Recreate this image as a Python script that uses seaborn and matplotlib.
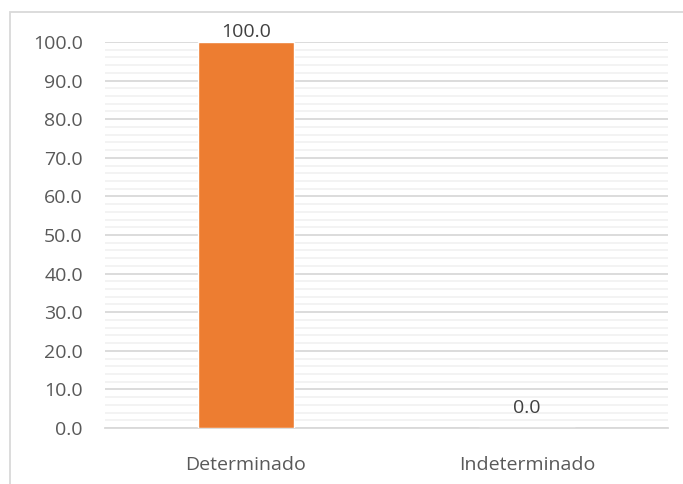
import matplotlib
matplotlib.use("Agg")
import matplotlib.pyplot as plt
from matplotlib.patches import Rectangle
from matplotlib.ticker import MultipleLocator, FormatStrFormatter
import seaborn as sns
import pandas as pd

categories = ["Determinado", "Indeterminado"]
values = [100.0, 0.0]

sns.set_theme(style="white")
plt.rcParams["font.family"] = ["Open Sans", "DejaVu Sans"]

text_color = "#595959"
df = pd.DataFrame({"categoria": categories, "valor": values})

fig = plt.figure(figsize=(6.83, 4.84), dpi=100)
ax = fig.add_axes([105 / 683, 1 - 428 / 484, 563 / 683, 386 / 484])

sns.barplot(data=df, x="categoria", y="valor", color="#ED7D31",
            saturation=1, width=0.34, ax=ax, zorder=3)

ax.set_ylim(0, 100)
ax.set_xlim(-0.5, 1.5)
ax.yaxis.set_major_locator(MultipleLocator(10))
ax.yaxis.set_minor_locator(MultipleLocator(2))
ax.yaxis.set_major_formatter(FormatStrFormatter("%.1f"))
ax.grid(axis="y", which="major", color="#D9D9D9", linewidth=1.3, zorder=0)
ax.grid(axis="y", which="minor", color="#F2F2F2", linewidth=1.3, zorder=0)
ax.set_axisbelow(True)
for s in ["top", "right", "left"]:
    ax.spines[s].set_visible(False)
ax.spines["bottom"].set_color("#D9D9D9")
ax.spines["bottom"].set_linewidth(1.3)
ax.tick_params(axis="both", which="both", length=0, labelsize=14,
               colors=text_color)
ax.tick_params(axis="x", pad=20)
ax.tick_params(axis="y", pad=16)
ax.set_xlabel("")
ax.set_ylabel("")

# Value labels just outside the end of each bar
for i, v in enumerate(values):
    offset = 1 if v > 0 else 8
    ax.annotate(f"{v:.1f}", (i, v), xytext=(0, offset),
                textcoords="offset points", ha="center", va="bottom",
                fontsize=14, color="#404040", annotation_clip=False)

# Chart frame
fig.patches.append(Rectangle((10 / 683, -0.1), 1.2, 1 - 12 / 484 + 0.1,
                             transform=fig.transFigure, fill=False,
                             edgecolor="#D9D9D9", linewidth=1.3))

fig.savefig("out.png", dpi=100)
